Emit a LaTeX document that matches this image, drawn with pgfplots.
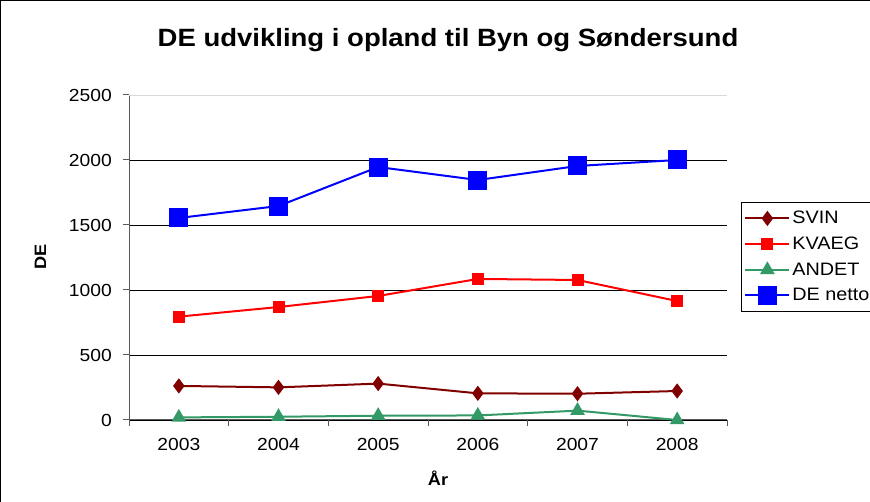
\documentclass[border=0pt]{standalone}
\usepackage{pgfplots}
\pgfplotsset{compat=1.18}
\usepackage{fontspec}
\setmainfont{Liberation Sans}[FakeStretch=1.1]
\definecolor{svin}{HTML}{800000}
\definecolor{kvaeg}{HTML}{FF0000}
\definecolor{andet}{HTML}{339966}
\definecolor{denetto}{HTML}{0000FF}
\begin{document}
\begin{tikzpicture}[x=1pt,y=1pt]
\path[use as bounding box, clip] (0,0) rectangle (870,502);
\draw[black, line width=1.2pt] (0.6,0) -- (0.6,501.4) -- (870,501.4);
\node[font=\fontsize{25}{28}\selectfont\bfseries, anchor=base] at (448,455) {DE udvikling i opland til Byn og Søndersund};
\begin{axis}[
  at={(129pt,82pt)}, anchor=south west, scale only axis,
  width=598pt, height=325pt,
  xmin=-0.5, xmax=5.5, ymin=0, ymax=2500,
  xtick={0,1,2,3,4,5}, xticklabels={2003,2004,2005,2006,2007,2008},
  major x tick style={draw=none},
  minor xtick={-0.5,0.5,1.5,2.5,3.5,4.5,5.5},
  ytick={0,500,1000,1500,2000}, extra y ticks={2500},
  extra y tick style={grid style={black!15, line width=0.8pt}},
  ymajorgrids, grid style={black, line width=0.8pt},
  axis x line=bottom, axis y line=left,
  axis line style={-, line width=1pt, black!65},
  tick align=outside, major tick length=6pt, minor tick length=6pt,
  tick style={black!65, line width=1pt},
  /pgf/number format/assume math mode=true,
  /pgf/number format/1000 sep={},
  ticklabel style={font=\fontsize{17.5}{19}\selectfont},
  yticklabel style={anchor=east, inner sep=0pt, xshift=-11pt},
  xticklabel style={anchor=north, inner sep=0pt, yshift=-12pt},
  xlabel={År}, ylabel={DE},
  label style={font=\fontsize{16.5}{18}\selectfont\bfseries},
  xlabel style={at={(axis description cs:0.5167,-0.178)}, anchor=center},
  ylabel style={at={(axis description cs:-0.148,0.5015)}, anchor=center, rotate=0},
  legend style={at={(axis description cs:1.0234,0.6708)}, anchor=north west,
    draw=black, line width=0.8pt, font=\fontsize{18}{20}\selectfont,
    row sep=7.7pt, inner xsep=3pt, inner ysep=7pt},
  legend cell align=left,
  legend image code/.code={\draw[mark repeat=2,mark phase=2,#1] plot coordinates {(0pt,0pt) (22pt,0pt) (44pt,0pt)};},
  clip=false,
]
\addplot[color=svin, line width=2pt, mark=diamond*, mark size=6pt, mark options={solid}]
  coordinates {(0,262) (1,251) (2,280) (3,205) (4,202) (5,223)};
\addlegendentry{SVIN}
\addplot[color=kvaeg, line width=2pt, mark=square*, mark size=5pt, mark options={solid}]
  coordinates {(0,795) (1,869) (2,954) (3,1085) (4,1077) (5,915)};
\addlegendentry{KVAEG}
\addplot[color=andet, line width=2pt, mark=triangle*, mark size=6.5pt, mark options={solid}]
  coordinates {(0,20) (1,25) (2,33) (3,35) (4,72) (5,0)};
\addlegendentry{ANDET}
\addplot[color=denetto, line width=2pt, mark=square*, mark size=8.5pt, mark options={solid}]
  coordinates {(0,1554) (1,1646) (2,1946) (3,1846) (4,1954) (5,2000)};
\addlegendentry{DE netto}
\end{axis}
\end{tikzpicture}
\end{document}
